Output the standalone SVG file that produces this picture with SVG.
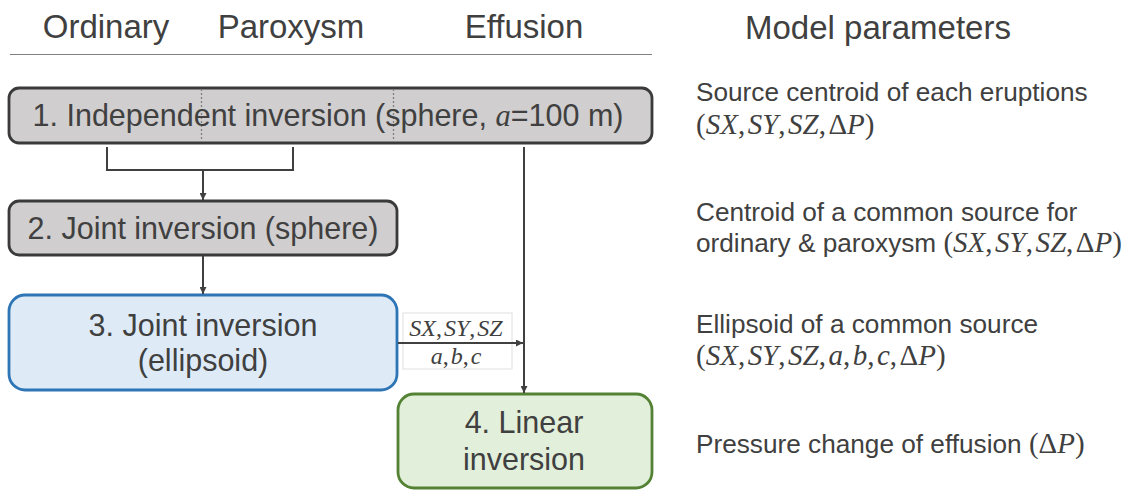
<svg xmlns="http://www.w3.org/2000/svg" width="1127" height="490" viewBox="0 0 1127 490">
<defs>
<style>
.t{font-family:"Liberation Sans",Arial,sans-serif;fill:#404040}
.h{font-size:33px}
.b{font-size:30.5px}
.r{font-size:26.2px}
.m{font-family:"Liberation Serif","Times New Roman",serif;font-style:italic}
.u{font-family:"Liberation Serif","Times New Roman",serif;font-style:normal}
.rm{font-size:29px}
.gray{fill:#d0cece;stroke:#3a3a3a;stroke-width:2.8}
.blue{fill:#deebf7;stroke:#2e75b6;stroke-width:2.8}
.green{fill:#e2efda;stroke:#548235;stroke-width:2.8}
.c{fill:none;stroke:#404040;stroke-width:2}
</style>
<marker id="ah" viewBox="0 0 10 10" refX="10" refY="5" markerWidth="7" markerHeight="7" markerUnits="userSpaceOnUse" orient="auto"><path d="M0,0 L10,5 L0,10 z" fill="#404040"/></marker>
</defs>
<rect width="1127" height="490" fill="#fff"/>
<g id="header">
<text class="t h" x="106" y="38" text-anchor="middle">Ordinary</text>
<text class="t h" x="291" y="38" text-anchor="middle">Paroxysm</text>
<text class="t h" x="524" y="38" text-anchor="middle">Effusion</text>
<text class="t h" x="878" y="39" text-anchor="middle">Model parameters</text>
<line x1="10" y1="54.5" x2="652" y2="54.5" stroke="#808080" stroke-width="1.2"/>
</g>
<g id="node1">
<rect class="gray" x="9" y="88" width="643" height="55" rx="10"/>
<line x1="201.5" y1="89" x2="201.5" y2="142" stroke="#808080" stroke-width="1.3" stroke-dasharray="2,2"/>
<line x1="393.5" y1="89" x2="393.5" y2="142" stroke="#808080" stroke-width="1.3" stroke-dasharray="2,2"/>
<text class="t b" x="328" y="126" text-anchor="middle">1. Independent inversion (sphere, <tspan class="m">a</tspan>=100 m)</text>
</g>
<g id="node2">
<rect class="gray" x="9" y="201" width="388" height="54" rx="10"/>
<text class="t b" x="203" y="239" text-anchor="middle">2. Joint inversion (sphere)</text>
</g>
<g id="node3">
<rect class="blue" x="9" y="295" width="388" height="95" rx="16"/>
<text class="t b" x="203" y="336" text-anchor="middle">3. Joint inversion</text>
<text class="t b" x="203" y="371" text-anchor="middle">(ellipsoid)</text>
</g>
<g id="node4">
<rect class="green" x="398" y="394" width="254" height="94" rx="16"/>
<text class="t b" x="524" y="433" text-anchor="middle">4. Linear</text>
<text class="t b" x="524" y="470" text-anchor="middle">inversion</text>
</g>
<g id="connectors">
<polyline class="c" points="107,147 107,170 293,170 293,147"/>
<line class="c" x1="203" y1="170" x2="203" y2="200" marker-end="url(#ah)"/>
<line class="c" x1="203" y1="256" x2="203" y2="294" marker-end="url(#ah)"/>
<line class="c" x1="524" y1="147" x2="524" y2="393" marker-end="url(#ah)"/>
<rect x="403" y="313" width="109" height="56" fill="#fff" stroke="#e0e0e0" stroke-width="1"/>
<line class="c" x1="398" y1="343" x2="523" y2="343" marker-end="url(#ah)"/>
<text class="t m" x="456" y="336" text-anchor="middle" font-size="24">SX<tspan class="u">,</tspan><tspan dx="2">SY</tspan><tspan class="u">,</tspan><tspan dx="2">SZ</tspan></text>
<text class="t m" x="456" y="364" text-anchor="middle" font-size="24">a<tspan class="u">,</tspan><tspan dx="2">b</tspan><tspan class="u">,</tspan><tspan dx="2">c</tspan></text>
</g>
<g id="params">
<text class="t r" x="696" y="101">Source centroid of each eruptions</text>
<text class="t r" x="696" y="134"><tspan class="u rm">(</tspan><tspan class="m rm">SX</tspan><tspan class="u rm">,</tspan><tspan class="m rm" dx="2.5">SY</tspan><tspan class="u rm">,</tspan><tspan class="m rm" dx="2.5">SZ</tspan><tspan class="u rm">,</tspan><tspan class="u rm" dx="2.5">Δ</tspan><tspan class="m rm">P</tspan><tspan class="u rm">)</tspan></text>
<text class="t r" x="696" y="221">Centroid of a common source for</text>
<text class="t r" x="696" y="252">ordinary &amp; paroxysm <tspan class="u rm">(</tspan><tspan class="m rm">SX</tspan><tspan class="u rm">,</tspan><tspan class="m rm" dx="2.5">SY</tspan><tspan class="u rm">,</tspan><tspan class="m rm" dx="2.5">SZ</tspan><tspan class="u rm">,</tspan><tspan class="u rm" dx="2.5">Δ</tspan><tspan class="m rm">P</tspan><tspan class="u rm">)</tspan></text>
<text class="t r" x="696" y="333">Ellipsoid of a common source</text>
<text class="t r" x="696" y="365"><tspan class="u rm">(</tspan><tspan class="m rm">SX</tspan><tspan class="u rm">,</tspan><tspan class="m rm" dx="2.5">SY</tspan><tspan class="u rm">,</tspan><tspan class="m rm" dx="2.5">SZ</tspan><tspan class="u rm">,</tspan><tspan class="m rm" dx="2.5">a</tspan><tspan class="u rm">,</tspan><tspan class="m rm" dx="2.5">b</tspan><tspan class="u rm">,</tspan><tspan class="m rm" dx="2.5">c</tspan><tspan class="u rm">,</tspan><tspan class="u rm" dx="2.5">Δ</tspan><tspan class="m rm">P</tspan><tspan class="u rm">)</tspan></text>
<text class="t r" x="696" y="453">Pressure change of effusion <tspan class="u rm">(Δ</tspan><tspan class="m rm">P</tspan><tspan class="u rm">)</tspan></text>
</g>
</svg>
